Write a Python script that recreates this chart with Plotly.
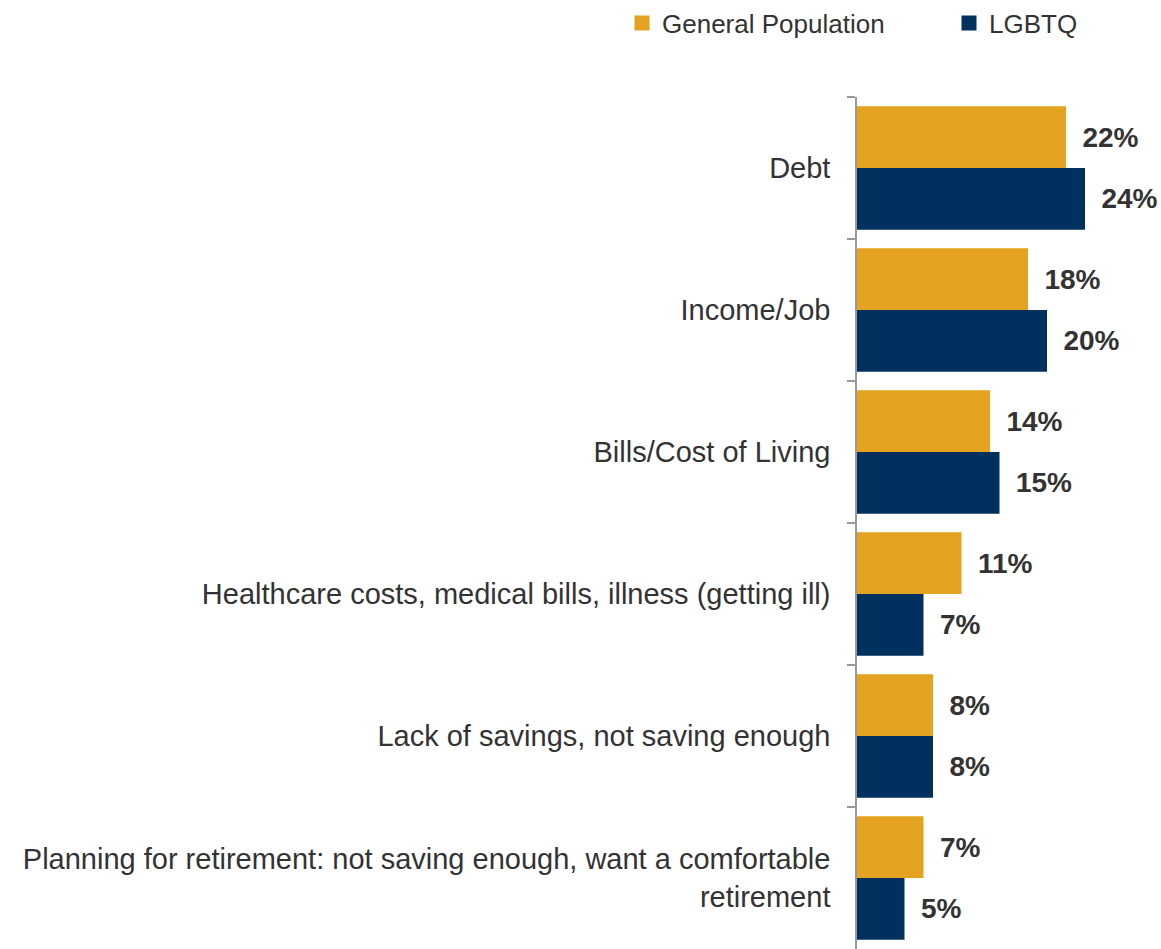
import plotly.graph_objects as go

categories = [
    "Debt",
    "Income/Job",
    "Bills/Cost of Living",
    "Healthcare costs, medical bills, illness (getting ill)",
    "Lack of savings, not saving enough",
    "Planning for retirement: not saving enough, want a comfortable<br>retirement",
]
general_population = [22, 18, 14, 11, 8, 7]
lgbtq = [24, 20, 15, 7, 8, 5]
series_names = ["General Population", "LGBTQ"]

ORANGE = "#E3A21F"
NAVY = "#00305E"
FONT = "Liberation Sans, Arial, sans-serif"

W, H = 1161, 949
L, T = 857, 97
plot_h = H - T
plot_w = W - L

fig = go.Figure()
for name, vals, col in [(series_names[0], general_population, ORANGE),
                        (series_names[1], lgbtq, NAVY)]:
    fig.add_trace(go.Bar(
        y=categories, x=vals, orientation="h", name=name, showlegend=False,
        marker=dict(color=col, line=dict(width=0)),
        texttemplate="\u00a0\u2009%{x}%", textposition="outside", cliponaxis=False,
        constraintext="none",
        textfont=dict(family=FONT, size=28, color="#333333", weight="bold"),
    ))
# legend entries with larger square swatches
for name, col in [(series_names[0], ORANGE), (series_names[1], NAVY)]:
    fig.add_trace(go.Scatter(
        x=[None], y=[None], mode="markers", name=name,
        marker=dict(symbol="square", size=15, color=col),
        hoverinfo="skip",
    ))

fig.update_layout(
    width=W, height=H,
    margin=dict(l=L, r=0, t=T, b=0, autoexpand=False),
    barmode="group", bargap=0.13, bargroupgap=0,
    plot_bgcolor="white", paper_bgcolor="white",
    font=dict(family=FONT, size=26, color="#333333"),
    showlegend=True,
    legend=dict(
        orientation="h", xref="paper", yref="paper",
        x=(622 - L) / plot_w, y=1 + (T - 23) / plot_h,
        xanchor="left", yanchor="middle",
        font=dict(family=FONT, size=26, color="#333333"),
        entrywidth=282, entrywidthmode="pixels",
        traceorder="normal", bgcolor="rgba(0,0,0,0)",
    ),
    xaxis=dict(range=[0, plot_w / 9.5], visible=False, fixedrange=True),
    yaxis=dict(
        autorange="reversed", tickson="boundaries", ticks="outside", ticklen=8,
        tickcolor="#999999", tickwidth=1.5,
        showline=True, linecolor="#999999", linewidth=1.5,
        showgrid=False, ticklabelstandoff=19, fixedrange=True,
        tickfont=dict(family=FONT, size=29, color="#333333"),
    ),
)

fig.write_html(
    "out.html",
    config={"displayModeBar": False},
    post_script="document.body.style.margin='0';document.body.style.overflow='hidden';",
)
